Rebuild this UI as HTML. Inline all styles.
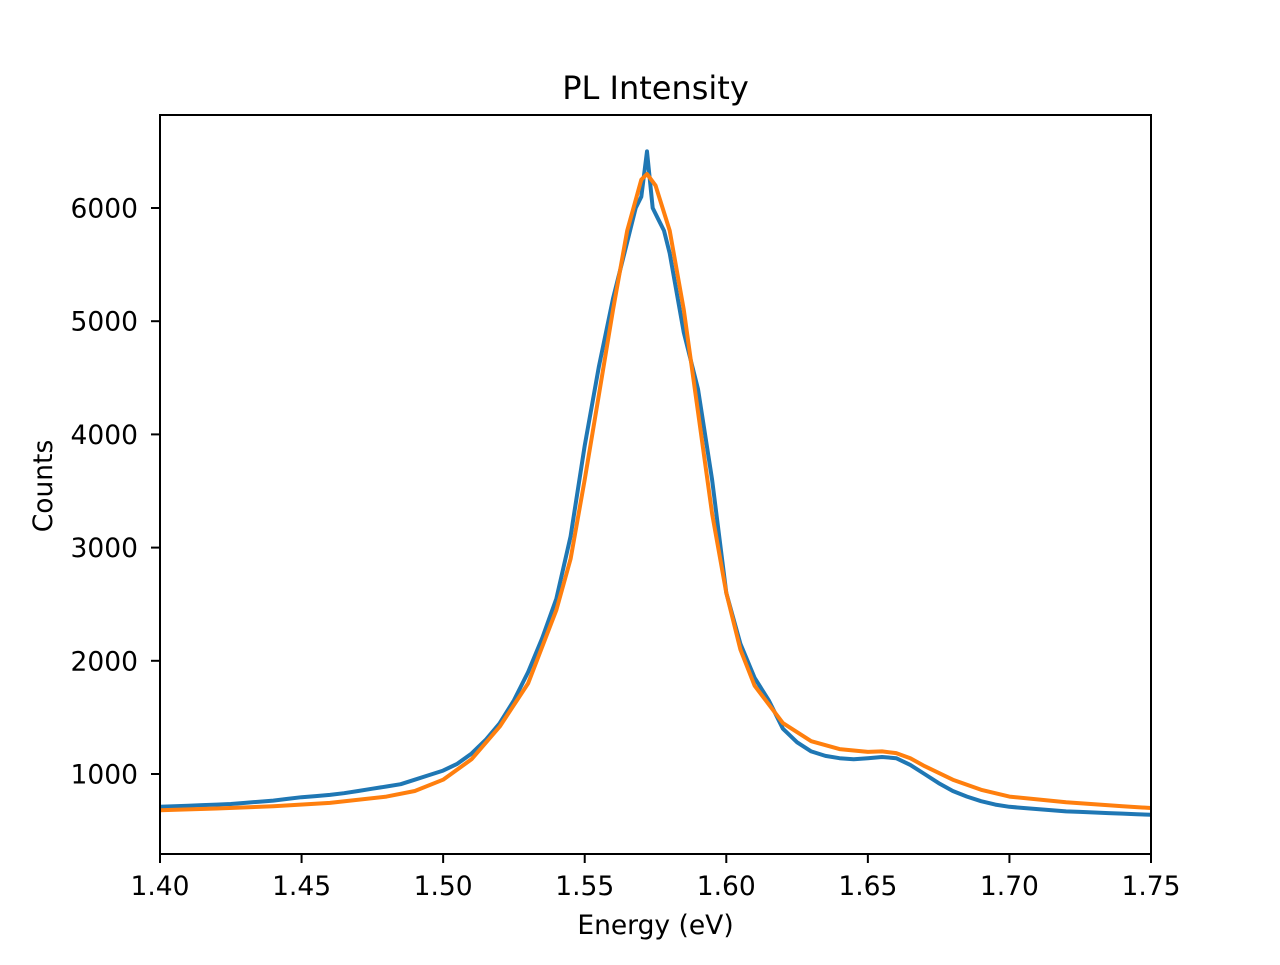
<!DOCTYPE html>
<html><head><meta charset="utf-8"><style>
body{margin:0;background:#fff;font-family:"Liberation Sans",sans-serif}
svg text{font-family:"DejaVu Sans","Liberation Sans",sans-serif;fill:#000}
</style></head><body>
<svg id="chart" width="1280" height="960" xmlns="http://www.w3.org/2000/svg">
<rect width="1280" height="960" fill="#fff"/>
<text x="655.5" y="99" style="font-size:32px" text-anchor="middle">PL Intensity</text>
<g id="plot"></g>
<g id="axes"></g>
<text x="655.5" y="934" style="font-size:26.5px" text-anchor="middle">Energy (eV)</text>
<text transform="translate(52,486) rotate(-90)" style="font-size:26.5px" text-anchor="middle">Counts</text>
</svg>
<script>
const xTicks=[1.40,1.45,1.50,1.55,1.60,1.65,1.70,1.75];
const yTicks=[1000,2000,3000,4000,5000,6000];
const dataX=[1.40,1.405,1.41,1.415,1.42,1.425,1.43,1.435,1.44,1.445,1.45,1.455,1.46,1.465,1.47,1.475,1.48,1.485,1.49,1.495,1.50,1.505,1.51,1.515,1.52,1.525,1.53,1.535,1.54,1.545,1.55,1.555,1.56,1.565,1.568,1.57,1.572,1.574,1.576,1.578,1.58,1.585,1.59,1.595,1.60,1.605,1.61,1.615,1.62,1.625,1.63,1.635,1.64,1.645,1.65,1.655,1.66,1.665,1.67,1.675,1.68,1.685,1.69,1.695,1.70,1.705,1.71,1.715,1.72,1.725,1.73,1.735,1.74,1.745,1.75];
const dataY=[710,715,720,725,730,735,745,755,765,780,795,805,815,830,850,870,890,910,950,990,1030,1090,1180,1300,1450,1650,1900,2200,2550,3100,3900,4600,5200,5700,6000,6100,6500,6000,5900,5800,5600,4900,4400,3600,2600,2150,1850,1650,1400,1280,1200,1160,1140,1130,1140,1150,1140,1080,1000,920,850,800,760,730,710,700,690,680,670,665,660,655,650,645,640];
const fitX=[1.40,1.42,1.44,1.46,1.48,1.49,1.50,1.51,1.52,1.53,1.54,1.545,1.55,1.555,1.56,1.565,1.57,1.572,1.575,1.58,1.585,1.59,1.595,1.60,1.605,1.61,1.62,1.63,1.64,1.65,1.655,1.66,1.665,1.67,1.68,1.69,1.70,1.72,1.74,1.75];
const fitY=[680,695,715,745,800,850,950,1130,1420,1800,2450,2900,3600,4350,5100,5800,6250,6300,6200,5800,5100,4200,3300,2600,2100,1780,1450,1290,1220,1195,1200,1185,1140,1070,950,860,800,750,715,700];
const L=160,R=1151,T=115,B=854;
const sx=v=>L+(v-1.40)/(0.35)*(R-L);
const sy=v=>774-(v-1000)*0.1132;
const NS="http://www.w3.org/2000/svg";
const plot=document.getElementById('plot'),axes=document.getElementById('axes');
function mk(tag,attrs,parent){const e=document.createElementNS(NS,tag);for(const k in attrs)e.setAttribute(k,attrs[k]);parent.appendChild(e);return e;}
const d1=dataX.map((x,i)=>(i?'L':'M')+sx(x).toFixed(1)+','+sy(dataY[i]).toFixed(1)).join('');
const p1=mk('path',{d:d1,fill:'none',stroke:'#1f77b4','stroke-width':4,'stroke-linejoin':'round'},plot);


const d2=fitX.map((x,i)=>(i?'L':'M')+sx(x).toFixed(1)+','+sy(fitY[i]).toFixed(1)).join('');
const p2=mk('path',{d:d2,fill:'none',stroke:'#ff7f0e','stroke-width':4,'stroke-linejoin':'round'},plot);


const fr=mk('rect',{x:L,y:T,width:R-L,height:B-T,fill:'none',stroke:'#000','stroke-width':2},axes);


xTicks.forEach(v=>{const x=sx(v);mk('line',{x1:x,x2:x,y1:B,y2:B+9,stroke:'#000','stroke-width':2},axes);
const t=mk('text',{x:x,y:B+41,'text-anchor':'middle',style:'font-size:26.5px'},axes);t.textContent=v.toFixed(2);

});
yTicks.forEach(v=>{const y=sy(v);mk('line',{x1:L-9,x2:L,y1:y,y2:y,stroke:'#000','stroke-width':2},axes);
const t=mk('text',{x:L-22,y:y+9.5,'text-anchor':'end',style:'font-size:26.5px'},axes);t.textContent=v;

});
</script>
</body></html>
